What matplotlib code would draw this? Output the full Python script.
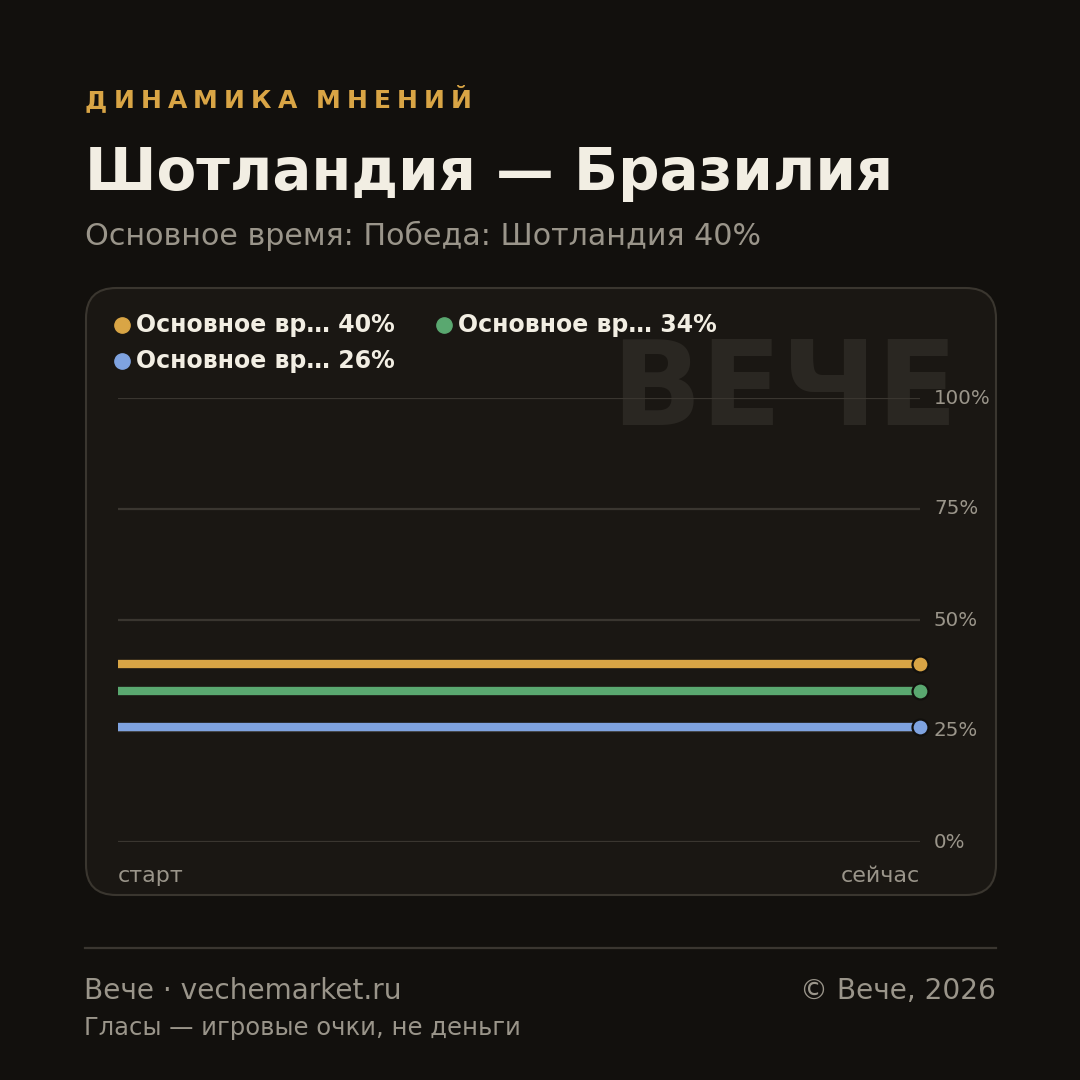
import matplotlib
matplotlib.use("Agg")
import matplotlib.pyplot as plt
from matplotlib.patches import FancyBboxPatch
from matplotlib.lines import Line2D

plt.rcParams["font.family"] = ["DejaVu Sans"]

BG = "#12100d"
CARD = "#1a1713"
EDGE = "#3a362f"
GRID = "#3a3630"
MUTED = "#9a958a"
LIGHT = "#f2eee3"
GOLD = "#d9a545"

kicker = "ДИНАМИКА МНЕНИЙ"
title = "Шотландия — Бразилия"
subtitle = "Основное время: Победа: Шотландия 40%"
series_names = ["Основное вр… 40%", "Основное вр… 34%", "Основное вр… 26%"]
series_colors = ["#d9a545", "#5aa870", "#7fa3e0"]
x_points = [0, 1]
series_values = [[40, 40], [34, 34], [26, 26]]
y_ticks = [0, 25, 50, 75, 100]
x_labels = ["старт", "сейчас"]

fig = plt.figure(figsize=(10.8, 10.8), dpi=100, facecolor=BG)
W, H = 1080, 1080


def fx(px):
    return px / W


def fy(py):
    return 1 - py / H


# card behind the chart
card = FancyBboxPatch((fx(86), fy(895)), fx(910), fy(288) - fy(895),
                      boxstyle="round,pad=0,rounding_size=0.028",
                      transform=fig.transFigure, facecolor=CARD,
                      edgecolor=EDGE, linewidth=1.5, zorder=0)
fig.patches.append(card)

# letter-spaced kicker
renderer = fig.canvas.get_renderer()
x = fx(85)
for ch in kicker:
    t = fig.text(x, fy(101), ch, color=GOLD, fontsize=18, fontweight="bold",
                 va="center", ha="left")
    w = t.get_window_extent(renderer).width if ch != " " else 6
    x += fx(w + 6.2)

fig.text(fx(85), fy(173), title, color=LIGHT, fontsize=41.7, fontweight="bold",
         va="center", ha="left")
fig.text(fx(85), fy(236), subtitle, color=MUTED, fontsize=21.7,
         va="center", ha="left")

# watermark
fig.text(fx(958), fy(425), "ВЕЧЕ", color="#2a2722", fontsize=85,
         fontweight="bold", ha="right", va="baseline", zorder=1)

ax = fig.add_axes([fx(118), fy(842), fx(920) - fx(118), fy(398) - fy(842)])
ax.set_facecolor("none")
ax.set_zorder(2)
ax.set_xlim(0, 1)
ax.set_ylim(0, 100)
for s in ax.spines.values():
    s.set_visible(False)
ax.set_xticks([])
ax.set_yticks([])

for yt in y_ticks:
    ax.axhline(yt, color=GRID, linewidth=1.6, zorder=1)
    ax.text(1.0 + fx(14) / (fx(920) - fx(118)), yt, f"{yt}%", color=MUTED,
            fontsize=14.3, va="center", ha="left", transform=ax.get_yaxis_transform())

for vals, col in zip(series_values, series_colors):
    ax.plot(x_points, vals, color=col, linewidth=6, solid_capstyle="butt",
            zorder=3, clip_on=False)
    ax.plot(x_points[-1:], vals[-1:], "o", color=col, markersize=11.5,
            markeredgecolor="#12100d", markeredgewidth=1.6, zorder=4, clip_on=False)

fig.text(fx(118), fy(876), x_labels[0], color=MUTED, fontsize=16,
         va="center", ha="left")
fig.text(fx(920), fy(876), x_labels[1], color=MUTED, fontsize=16,
         va="center", ha="right")

# legend
leg_pos = [(122, 325), (444, 325), (122, 361)]
for (lx, ly), name, col in zip(leg_pos, series_names, series_colors):
    fig.add_artist(Line2D([fx(lx)], [fy(ly)], marker="o", markersize=11,
                          color=col, linestyle="none", transform=fig.transFigure))
    fig.text(fx(lx + 14), fy(ly), name, color=LIGHT, fontsize=17,
             fontweight="bold", va="center", ha="left")

# footer
fig.add_artist(Line2D([fx(85), fx(996)], [fy(948), fy(948)], color=GRID,
                      linewidth=1.6, transform=fig.transFigure))
fig.text(fx(84), fy(991), "Вече · vechemarket.ru", color=MUTED, fontsize=20.2,
         va="center", ha="left")
fig.text(fx(996), fy(991), "© Вече, 2026", color=MUTED, fontsize=20.2,
         va="center", ha="right")
fig.text(fx(84), fy(1028), "Гласы — игровые очки, не деньги", color=MUTED,
         fontsize=17.5, va="center", ha="left")

fig.savefig("out.png", dpi=100, facecolor=BG)
